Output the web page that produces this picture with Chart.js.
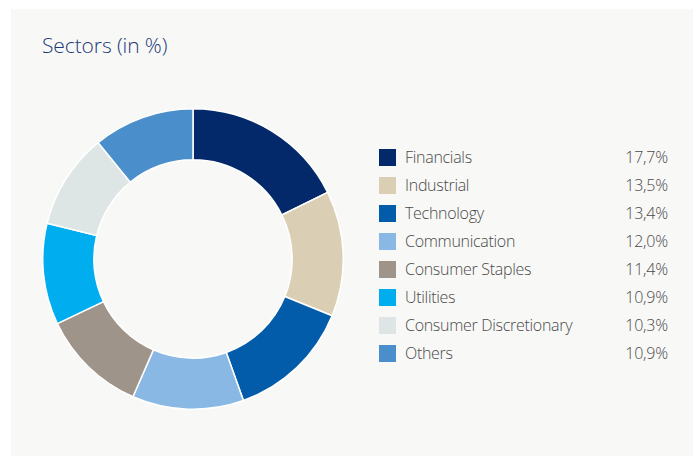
<!DOCTYPE html>
<html>
<head>
<meta charset="utf-8">
<script src="https://cdn.jsdelivr.net/npm/chart.js@4"></script>
<style>
  html, body { margin: 0; padding: 0; background: #fff; }
  body { width: 693px; height: 456px; position: relative; overflow: hidden; font-family: "Open Sans", "Noto Sans", sans-serif; }
  .panel { position: absolute; left: 11px; top: 9px; right: 0; bottom: 0; background: #f8f8f7; }
  .title { position: absolute; left: 42px; top: 31px; font-size: 21px; color: #1d3a78; font-weight: 300; letter-spacing: -0.1px; }
  .donut { position: absolute; left: 42px; top: 108px; width: 302px; height: 302px; }
  .legend { position: absolute; left: 379px; top: 149px; width: 289px; }
  .row { position: relative; height: 28px; }
  .sw { position: absolute; left: 0; top: 0; width: 17px; height: 17px; }
  .lbl { position: absolute; left: 26px; top: -3px; font-size: 16px; font-weight: 300; letter-spacing: -0.3px; color: #4a4a4a; line-height: 22px; white-space: nowrap; }
  .val { position: absolute; right: 0; top: -3px; font-size: 16px; font-weight: 300; letter-spacing: -0.2px; color: #4a4a4a; line-height: 22px; }
</style>
</head>
<body>
<div class="panel"></div>
<div class="title">Sectors (in %)</div>
<div class="donut"><canvas id="sectors"></canvas></div>
<div class="legend" id="legend"></div>
<script>
'use strict';

// Sector weights in percent
const sectorLabels = [
  'Financials',
  'Industrial',
  'Technology',
  'Communication',
  'Consumer Staples',
  'Utilities',
  'Consumer Discretionary',
  'Others',
];
const sectorValues = [17.7, 13.5, 13.4, 12.0, 11.4, 10.9, 10.3, 10.9];
const sectorColors = [
  '#03296a',
  '#dacfb5',
  '#025ca9',
  '#88b8e3',
  '#9e948a',
  '#00aeef',
  '#dee5e5',
  '#4a8fcb',
];

// European style percent: 17,7%
function fmtPct(v) {
  return v.toFixed(1).replace('.', ',') + '%';
}

const ctx = document.getElementById('sectors').getContext('2d');
new Chart(ctx, {
  type: 'doughnut',
  data: {
    labels: sectorLabels,
    datasets: [
      {
        data: sectorValues,
        backgroundColor: sectorColors,
        borderColor: '#ffffff',
        borderWidth: 1.5,
        hoverOffset: 0,
      },
    ],
  },
  options: {
    responsive: true,
    maintainAspectRatio: false,
    animation: false,
    cutout: '66%',
    layout: { padding: 0 },
    plugins: {
      legend: { display: false },
      tooltip: { enabled: false },
    },
  },
});

// Legend on the right, built from the same arrays
const legendEl = document.getElementById('legend');
sectorLabels.forEach((name, i) => {
  const row = document.createElement('div');
  row.className = 'row';
  row.innerHTML =
    `<div class="sw" style="background:${sectorColors[i]}"></div>` +
    `<div class="lbl">${name}</div>` +
    `<div class="val">${fmtPct(sectorValues[i])}</div>`;
  legendEl.appendChild(row);
});
</script>
</body>
</html>
